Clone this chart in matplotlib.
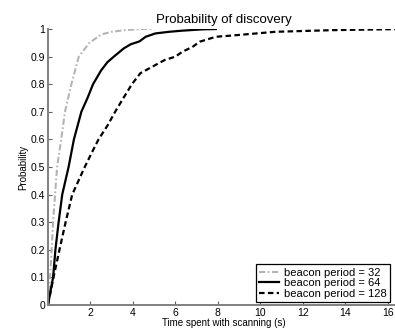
import matplotlib.pyplot as plt

plt.rcParams['font.family'] = ['Liberation Sans', 'DejaVu Sans']

# beacon period = 32
t32 = [0, 0.1, 0.24, 0.38, 0.43, 0.62, 0.8, 1.1, 1.45, 1.95, 2.5, 3.0, 3.6, 4.4, 5.0]
p32 = [0, 0.1, 0.3, 0.45, 0.5, 0.6, 0.7, 0.8, 0.9, 0.95, 0.98, 0.99, 0.996, 1.0, 1.0]

# beacon period = 64
t64 = [0, 0.24, 0.35, 0.5, 0.67, 0.97, 1.22, 1.57, 1.86, 2.12, 2.5, 2.8, 3.1, 3.57,
       3.9, 4.3, 4.6, 5.05, 5.7, 6.3, 7.3, 7.9]
p64 = [0, 0.1, 0.2, 0.3, 0.4, 0.5, 0.6, 0.7, 0.75, 0.8, 0.85, 0.88, 0.9, 0.93,
       0.945, 0.955, 0.972, 0.984, 0.99, 0.994, 0.999, 1.0]

# beacon period = 128
t128 = [0, 0.26, 0.54, 0.83, 1.14, 1.73, 2.05, 2.38, 2.8, 3.16, 3.55, 3.95, 4.35,
        4.9, 5.5, 6.0, 6.33, 6.8, 7.14, 7.9, 8.6, 9.8, 10.7, 13.4, 16.6]
p128 = [0, 0.1, 0.2, 0.3, 0.4, 0.5, 0.55, 0.6, 0.65, 0.7, 0.75, 0.8, 0.84,
        0.863, 0.888, 0.9, 0.918, 0.935, 0.954, 0.972, 0.976, 0.984, 0.99, 0.996, 1.0]

labels = ['beacon period = 32', 'beacon period = 64', 'beacon period = 128']

fig = plt.figure(figsize=(3.95, 3.3), dpi=100)
ax = fig.add_axes([0.1215, 0.076, 0.89, 0.836])

ax.plot(t32, p32, color='#b4b4b4', lw=1.5, linestyle=(0, (3, 1.2, 0.8, 1.2)), label=labels[0])
ax.plot(t64, p64, color='black', lw=1.6, label=labels[1])
ax.plot(t128, p128, color='black', lw=1.6, linestyle=(0, (2.5, 1.5)), label=labels[2])

ax.set_xlim(0, 16.55)
ax.set_ylim(0, 1)
ax.set_xticks(range(2, 17, 2))
ax.set_yticks([i / 10 for i in range(11)])
ax.set_yticklabels(['0', '0.1', '0.2', '0.3', '0.4', '0.5', '0.6', '0.7', '0.8', '0.9', '1'])

for s in ['top', 'right']:
    ax.spines[s].set_visible(False)
for s in ['left', 'bottom']:
    ax.spines[s].set_color('#808080')
    ax.spines[s].set_linewidth(1.4)
ax.tick_params(direction='in', length=3, width=0.8, color='#606060', labelsize=7.5, pad=2)

ax.set_title('Probability of discovery', fontsize=9.5, pad=4)
ax.set_xlabel('Time spent with scanning (s)', fontsize=7, labelpad=0)
ax.set_ylabel('Probability', fontsize=7, labelpad=2)

leg = ax.legend(loc='lower right', bbox_to_anchor=(390 / 395, 1 - 302 / 330),
                bbox_transform=fig.transFigure, fontsize=8, handlelength=1.8,
                handletextpad=0.45, borderpad=0.3, labelspacing=0.05, fancybox=False,
                framealpha=1, borderaxespad=0)
leg.get_frame().set_edgecolor('black')
leg.get_frame().set_linewidth(0.9)

fig.savefig('out.png', dpi=100)
